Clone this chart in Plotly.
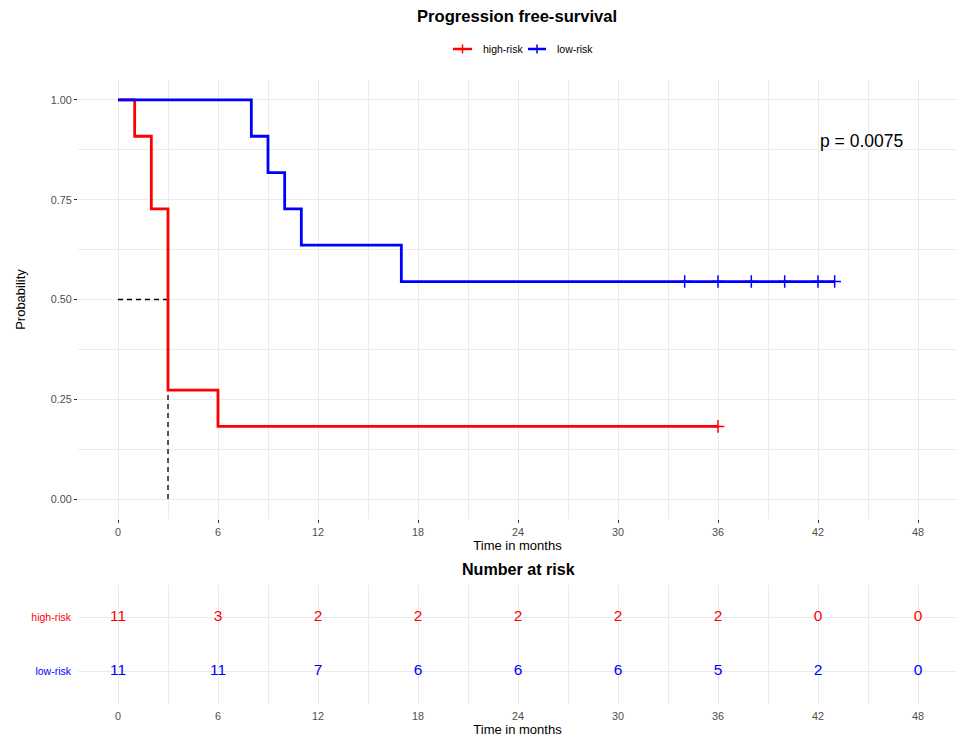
import plotly.graph_objects as go

# ---------------- data ----------------
high_times = [0, 1, 2, 3, 6, 36]
high_surv = [1.0, 0.909, 0.727, 0.273, 0.182, 0.182]
high_censor_times = [36]
high_censor_surv = [0.182]

low_times = [0, 8, 9, 10, 11, 17, 43]
low_surv = [1.0, 0.909, 0.818, 0.727, 0.636, 0.545, 0.545]
low_censor_times = [34, 36, 38, 40, 42, 43]
low_censor_surv = [0.545, 0.545, 0.545, 0.545, 0.545, 0.545]

median_time = 3
median_surv = 0.5

risk_times = [0, 6, 12, 18, 24, 30, 36, 42, 48]
risk_high = [11, 3, 2, 2, 2, 2, 2, 0, 0]
risk_low = [11, 11, 7, 6, 6, 6, 5, 2, 0]

group_names = ["high-risk", "low-risk"]
group_colors = ["#FF0000", "#0000FF"]
x_ticks = [0, 6, 12, 18, 24, 30, 36, 42, 48]
y_ticks = [0.0, 0.25, 0.5, 0.75, 1.0]
y_ticklabels = ["0.00", "0.25", "0.50", "0.75", "1.00"]
pval_text = "p = 0.0075"

W, H = 957, 740
FONT = "Liberation Sans, Arial, sans-serif"
GRID = "#EBEBEB"

fig = go.Figure()

# median dashed lines
for xs, ys in [([0, median_time], [median_surv, median_surv]),
               ([median_time, median_time], [0, median_surv])]:
    fig.add_trace(go.Scatter(x=xs, y=ys, mode="lines",
                             line=dict(color="black", width=1.3, dash="5px,4px"),
                             showlegend=False, hoverinfo="skip", xaxis="x", yaxis="y"))

curves = [
    (high_times, high_surv, high_censor_times, high_censor_surv),
    (low_times, low_surv, low_censor_times, low_censor_surv),
]
for (t, s, ct, cs), name, col in zip(curves, group_names, group_colors):
    fig.add_trace(go.Scatter(x=t, y=s, mode="lines", line=dict(color=col, width=2.8, shape="hv"),
                             showlegend=False, xaxis="x", yaxis="y", name=name))
    fig.add_trace(go.Scatter(x=ct, y=cs, mode="markers", name=name,
                             marker=dict(symbol="cross-thin", size=9, color=col,
                                         line=dict(color=col, width=1.5)),
                             showlegend=False, xaxis="x", yaxis="y"))

# risk table
for vals, yv, col in [(risk_high, 2, group_colors[0]), (risk_low, 1, group_colors[1])]:
    fig.add_trace(go.Scatter(x=risk_times, y=[yv] * len(risk_times), mode="text",
                             text=[str(v) for v in vals],
                             textfont=dict(color=col, size=15.5, family=FONT),
                             showlegend=False, xaxis="x2", yaxis="y2"))

x_left_px, x_right_px = 78, 957
x0_px, x48_px = 118, 918
ppm = (x48_px - x0_px) / 48.0
xr = [(x_left_px - x0_px) / ppm, (x_right_px - x0_px) / ppm]

main_top, main_bot = 80, 519
tab_top, tab_bot = 585, 704

axis_common = dict(
    showline=False, zeroline=False, gridcolor=GRID, gridwidth=1,
    tickfont=dict(size=10.8, color="#4D4D4D", family=FONT),
)

# manual legend (compact, like ggplot)
shapes = []
annotations = []
leg_y = 49
for (x_a, x_b, x_text), name, col in zip([(453, 472, 481), (528, 546, 555)], group_names, group_colors):
    shapes.append(dict(type="line", xref="paper", yref="paper",
                       x0=x_a / W, x1=x_b / W, y0=1 - leg_y / H, y1=1 - leg_y / H,
                       line=dict(color=col, width=2.5)))
    xm = (x_a + x_b) / 2
    shapes.append(dict(type="line", xref="paper", yref="paper",
                       x0=xm / W, x1=xm / W, y0=1 - (leg_y - 4.5) / H, y1=1 - (leg_y + 4.5) / H,
                       line=dict(color=col, width=1.5)))
    annotations.append(dict(text=name, xref="paper", yref="paper", x=x_text / W, y=1 - leg_y / H,
                            showarrow=False, xanchor="left", yanchor="middle",
                            font=dict(size=10.5, family=FONT, color="black")))

annotations += [
    dict(text="<b>Progression free-survival</b>", xref="paper", yref="paper",
         x=517 / W, y=1 - 17 / H, showarrow=False, font=dict(size=16.6, family=FONT),
         xanchor="center", yanchor="middle"),
    dict(text="<b>Number at risk</b>", xref="paper", yref="paper",
         x=518 / W, y=1 - 569 / H, showarrow=False, font=dict(size=16.1, family=FONT),
         xanchor="center", yanchor="middle"),
    dict(text=pval_text, xref="x", yref="y", x=42, y=0.897, showarrow=False,
         font=dict(size=17.5, family=FONT), xanchor="left", yanchor="middle"),
]

fig.update_layout(
    width=W, height=H, margin=dict(l=0, r=0, t=0, b=0),
    paper_bgcolor="white", plot_bgcolor="white",
    font=dict(family=FONT, color="black"),
    showlegend=False,
    xaxis=dict(domain=[x_left_px / W, 1.0], range=xr, tickvals=x_ticks,
               ticks="outside", ticklen=3, tickcolor="#333333", tickwidth=1,
               minor=dict(dtick=3, tick0=0, showgrid=True, gridcolor=GRID, gridwidth=0.6, ticks=""),
               title=dict(text="Time in months", font=dict(size=13, family=FONT), standoff=3),
               anchor="y", **axis_common),
    yaxis=dict(domain=[1 - main_bot / H, 1 - main_top / H], range=[-0.05, 1.05],
               tickvals=y_ticks, ticktext=y_ticklabels,
               ticks="outside", ticklen=3, tickcolor="#333333", tickwidth=1,
               minor=dict(dtick=0.125, tick0=0, showgrid=True, gridcolor=GRID, gridwidth=0.6, ticks=""),
               title=dict(text="Probability", font=dict(size=13, family=FONT), standoff=22),
               anchor="x", **axis_common),
    xaxis2=dict(domain=[x_left_px / W, 1.0], range=xr, tickvals=x_ticks,
                ticks="", ticklabelstandoff=4,
                minor=dict(dtick=3, tick0=0, showgrid=True, gridcolor=GRID, gridwidth=0.6),
                title=dict(text="Time in months", font=dict(size=13, family=FONT), standoff=3),
                anchor="y2", **axis_common),
    yaxis2=dict(domain=[1 - tab_bot / H, 1 - tab_top / H], range=[0.4, 2.6],
                tickvals=[2, 1],
                ticktext=['<span style="color:#FF0000">high-risk</span>',
                          '<span style="color:#0000FF">low-risk</span>'],
                ticks="", ticklabelstandoff=6,
                anchor="x2", **{**axis_common, "tickfont": dict(size=10.5, family=FONT)}),
    shapes=shapes,
    annotations=annotations,
)

fig.write_html("out.html")
